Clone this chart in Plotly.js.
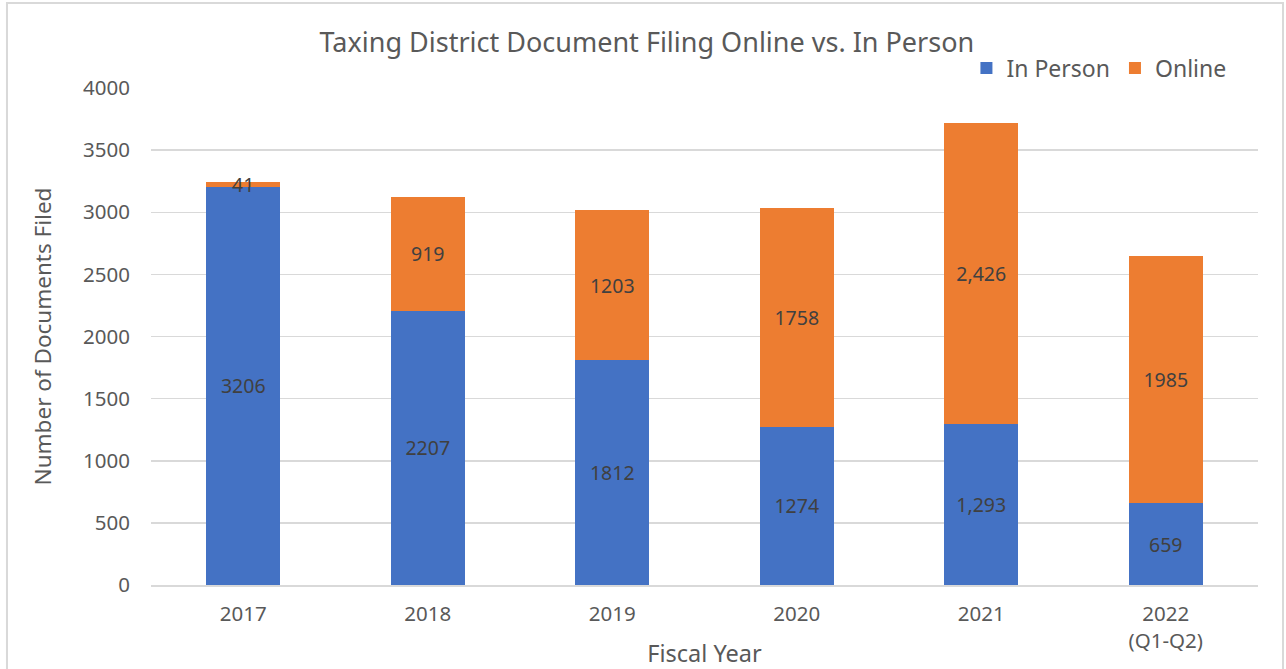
<!DOCTYPE html>
<html>
<head>
<meta charset="utf-8">
<script src="https://cdn.plot.ly/plotly-3.0.1.min.js"></script>
<style>html,body{margin:0;padding:0;background:#fff;}#chart{width:1286px;height:669px;}</style>
</head>
<body>
<div id="chart"></div>
<script>
const years = ["2017", "2018", "2019", "2020", "2021", "2022<br>(Q1-Q2)"];
const inPerson = [3206, 2207, 1812, 1274, 1293, 659];
const online = [41, 919, 1203, 1758, 2426, 1985];
const inPersonLabels = ["3206", "2207", "1812", "1274", "1,293", "659"];
const onlineLabels = ["41", "919", "1203", "1758", "2,426", "1985"];
const yTicks = [0, 500, 1000, 1500, 2000, 2500, 3000, 3500, 4000];

const FONT = "Noto Sans, Open Sans, sans-serif";
const labelFont = {family: FONT, size: 19.5, color: "#404040"};

const traces = [
  {type: "bar", name: "In Person", x: years, y: inPerson, text: inPersonLabels,
   textposition: "inside", insidetextanchor: "middle", constraintext: "none", textangle: 0,
   textfont: labelFont, marker: {color: "#4472C4"}, hoverinfo: "x+y+name"},
  {type: "bar", name: "Online", x: years, y: online, text: onlineLabels,
   textposition: "inside", insidetextanchor: "middle", constraintext: "none", textangle: 0,
   textfont: labelFont, marker: {color: "#ED7D31"}, hoverinfo: "x+y+name"}
];

const layout = {
  width: 1286, height: 669,
  barmode: "stack", bargap: 0.6,
  paper_bgcolor: "#fff", plot_bgcolor: "#fff",
  margin: {l: 151, r: 28, t: 88, b: 84},
  font: {family: FONT, color: "#595959", size: 20},
  title: {text: "Taxing District Document Filing Online vs. In Person",
          font: {family: FONT, size: 27, color: "#595959"},
          x: 0.503, xanchor: "center", y: 0.937, yanchor: "middle", xref: "container"},
  showlegend: true,
  legend: {orientation: "h", x: 0.976, xanchor: "right", y: 1.04, yanchor: "middle",
           font: {family: FONT, size: 23, color: "#595959"}, traceorder: "normal",
           bgcolor: "rgba(0,0,0,0)", itemwidth: 30},
  xaxis: {type: "category", showgrid: false, showline: true, linecolor: "#d9d9d9", linewidth: 1.5,
          ticks: "", ticklabelstandoff: 10, tickfont: {family: FONT, size: 20.5, color: "#595959"},
          title: {text: "Fiscal Year", font: {family: FONT, size: 23.5, color: "#595959"}, standoff: 4},
          fixedrange: true},
  yaxis: {range: [0, 4000], tickvals: yTicks, showgrid: true, gridcolor: "#d9d9d9", gridwidth: 1.5,
          zeroline: false, showline: false, ticks: "", ticklen: 0, ticklabelstandoff: 20,
          tickfont: {family: FONT, size: 20.5, color: "#595959"},
          title: {text: "Number of Documents Filed", font: {family: FONT, size: 22.5, color: "#595959"}, standoff: 25},
          fixedrange: true},
  shapes: [{type: "rect", xref: "paper", yref: "paper", x0: -0.1301, x1: 1.0226, y0: -0.2, y1: 1.171,
            line: {color: "#d9d9d9", width: 2}, fillcolor: "rgba(0,0,0,0)", layer: "below"}]
};

Plotly.newPlot("chart", traces, layout, {displayModeBar: false, staticPlot: true});
</script>
</body>
</html>
